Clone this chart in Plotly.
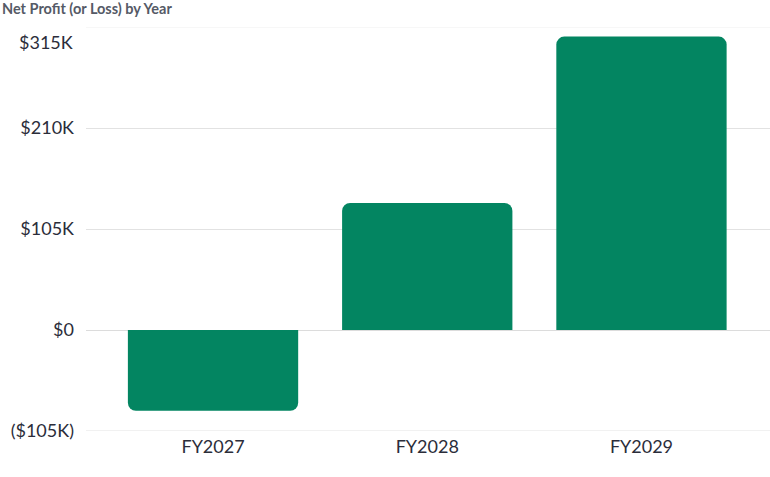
import plotly.graph_objects as go

categories = ["FY2027", "FY2028", "FY2029"]
net_profit = [-84000, 132000, 305000]
tick_values = [-105000, 0, 105000, 210000, 315000]

def fmt(v):
    s = "${}K".format(abs(v) // 1000) if v != 0 else "$0"
    return "({})".format(s) if v < 0 else s

fig = go.Figure()
fig.add_trace(go.Bar(x=categories, y=net_profit, marker_color="#038561",
                     marker_line_width=0, width=0.795))

font_family = "Lato, 'Open Sans', sans-serif"
text_color = "#2b2d3a"
fig.update_layout(
    width=770, height=477,
    margin=dict(l=86, r=0, t=27, b=46),
    paper_bgcolor="white", plot_bgcolor="white",
    barcornerradius=8,
    showlegend=False,
    font=dict(family=font_family, color=text_color, size=18),
    xaxis=dict(range=[-0.593, 2.6], showgrid=False, showline=False, ticks="",
               tickfont=dict(size=18, color=text_color), ticklabelstandoff=3),
    yaxis=dict(range=[-105000, 315000], tickvals=tick_values[:-1],
               ticktext=[fmt(v) for v in tick_values[:-1]],
               showgrid=True, gridcolor="#e2e2e2", gridwidth=1,
               zeroline=True, zerolinecolor="#dcdcdc", zerolinewidth=1,
               showline=False, ticks="", ticklabelstandoff=11,
               tickfont=dict(size=18, color=text_color)),
    annotations=[
        dict(text="<b>Net Profit (or Loss) by Year</b>", xref="paper", yref="paper",
             x=-86/684, y=1, yshift=19, xanchor="left", yanchor="middle",
             showarrow=False, font=dict(size=14.5, color="#555a66", family=font_family)),
        dict(text=fmt(tick_values[-1]), xref="paper", yref="y", x=0, y=tick_values[-1],
             xanchor="right", yanchor="middle", xshift=-11, yshift=-15, showarrow=False,
             font=dict(size=18, color=text_color, family=font_family)),
    ],
    shapes=[
        dict(type="line", xref="paper", yref="y", x0=0, x1=1,
             y0=tick_values[-1], y1=tick_values[-1], line=dict(color="#f0f0f0", width=1)),
        dict(type="line", xref="paper", yref="y", x0=0, x1=1,
             y0=tick_values[0], y1=tick_values[0], line=dict(color="#e2e2e2", width=1)),
    ],
)

fig.write_html("out.html")
